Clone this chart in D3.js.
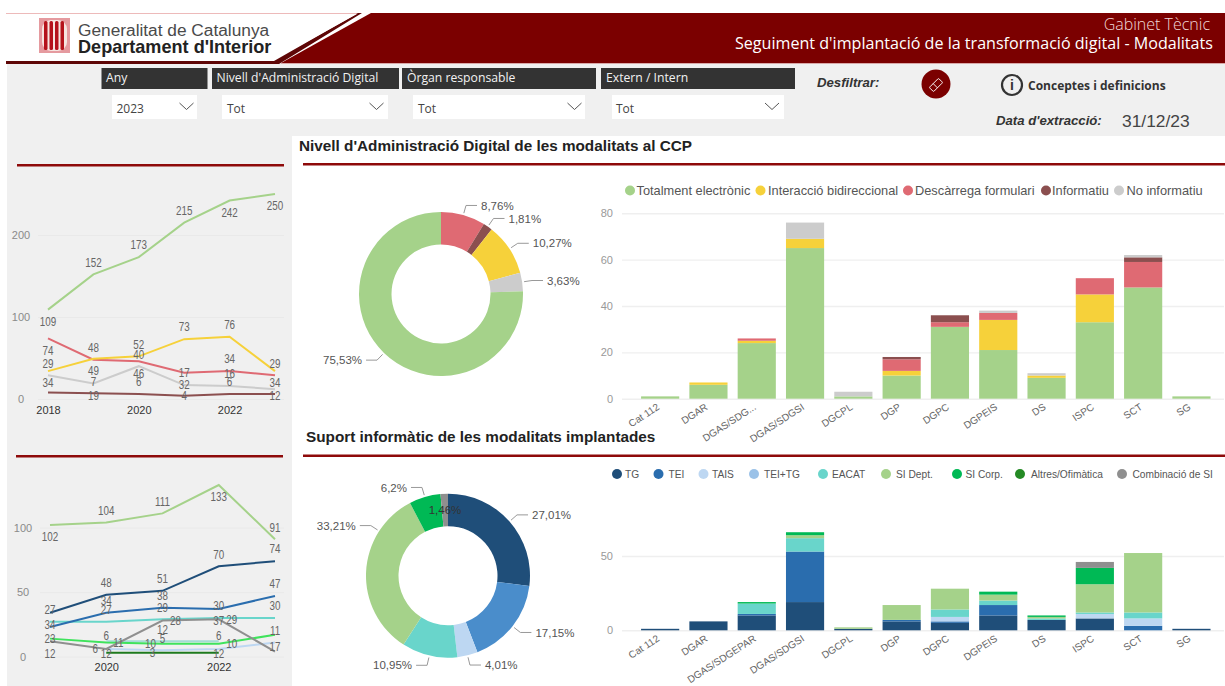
<!DOCTYPE html>
<html><head><meta charset="utf-8">
<script src="https://cdn.jsdelivr.net/npm/d3@7/dist/d3.min.js"></script>
<style>
html,body{margin:0;padding:0;background:#fff;overflow:hidden}
svg{display:block}
text{font-family:"Liberation Sans",Arial,sans-serif}
.ui{font-family:"Open Sans",sans-serif}
</style></head><body>
<svg id="c" width="1225" height="686"></svg>
<script>
// ---------- data ----------
const organs1 = ["Cat 112","DGAR","DGAS/SDG...","DGAS/SDGSI","DGCPL","DGP","DGPC","DGPEIS","DS","ISPC","SCT","SG"];
const organs2 = ["Cat 112","DGAR","DGAS/SDGEPAR","DGAS/SDGSI","DGCPL","DGP","DGPC","DGPEIS","DS","ISPC","SCT","SG"];
const levels = ["Totalment electrònic","Interacció bidireccional","Descàrrega formulari","Informatiu","No informatiu"];
const levelColors = ["#A5D28A","#F6D13A","#DF6A73","#8B4F4F","#CCCCCC"];
const electronic = [1,6,24,65,1,10,31,21,9,33,48,1];
const bidirectional = [0,1,1,4,0,2,0,13,1,12,0,0];
const download = [0,0,1,0,0,5,2,3,0,7,11,0];
const informative = [0,0,0,0,0,1,3,0,0,0,2,0];
const noInformative = [0,0,0,7,2,0,0,1,1,0,1,0];

const supports = ["TG","TEI","TAIS","TEI+TG","EACAT","SI Dept.","SI Corp.","Altres/Ofimàtica","Combinació de SI"];
const supportColors = ["#1F4E79","#2A6DAE","#BDD7F2","#9BC2E8","#69D5CB","#A5D28A","#00B955","#248A24","#8F8F8F"];
const tg = [1,6,10,19,1,6,5,10,7,8,0,1];
const tei = [0,0,1,34,0,1,1,7,0,0,3,0];
const tais = [0,0,0,0,0,0,3,0,0,3,5,0];
const teiTg = [0,0,0,0,0,0,0,0,0,0,0,0];
const eacat = [0,0,7,9,0,0,5,3,1,1,4,0];
const siDept = [0,0,0,2,1,10,14,4,1,19,40,0];
const siCorp = [0,0,1,2,0,0,0,2,1,11,0,0];
const altres = [0,0,0,0,0,0,0,0,0,0,0,0];
const combinacio = [0,0,0,0,0,0,0,0,0,4,0,0];

const donut1Values = [29,6,34,12,250];
const donut1Colors = ["#DF6A73","#8B4F4F","#F6D13A","#CCCCCC","#A5D28A"];
const donut1Labels = ["8,76%","1,81%","10,27%","3,63%","75,53%"];
const donut2Values = [74,47,11,30,91,17,4];
const donut2Colors = ["#1F4E79","#4A8DCB","#BDD7F2","#69D5CB","#A5D28A","#00B955","#8F8F8F"];
const donut2Labels = ["27,01%","17,15%","4,01%","10,95%","33,21%","6,2%","1,46%"];

const years1 = [2018,2019,2020,2021,2022,2023];
const lineElectronic = [109,152,173,215,242,250];
const lineBidirectional = [34,49,52,73,76,34];
const lineDownload = [74,48,46,32,34,29];
const lineNoInfo = [29,19,40,17,16,12];
const lineInfo = [8,7,6,4,6,6];

const years2 = [2019,2020,2021,2022,2023];
const lineDept = [102,104,111,133,91];
const lineTG = [34,48,51,70,74];
const lineTEI = [23,34,38,37,47];
const lineEACAT = [27,27,29,30,30];
const lineComb = [12,6,28,29,4];
const lineTeiTg = [null,12,12,12,null];
const lineCorp = [14,11,10,10,17];
const lineTAIS = [null,6,5,6,11];
const lineAltres = [null,3,3,3,null];

// label placement relative to the point: [dx,dy]; null = no label shown
const U=[0,-12],D=[0,12];
const place1 = {
  electronic:[D,U,U,U,D,D], bidirectional:[D,D,U,U,U,D], download:[D,U,D,D,U,U],
  noInfo:[U,D,U,U,U,[0,7]], info:[null,U,U,[0,0],U,null]
};
const place2 = {
  dept:[D,U,U,D,U], tg:[D,U,U,U,U], tei:[D,U,U,D,U], eacat:[U,U,U,U,U],
  comb:[D,[-11,0],[13,0],[13,0],null], teiTg:[null,D,U,D,null],
  corp:[null,[12,0],[-12,0],[13,0],D], tais:[null,[0,-13],U,[0,-13],U], altres:[null,null,[-10,0],null,null]
};

// ---------- page ----------
const svg = d3.select("#c");
const DARK="#7B0000";
svg.append("rect").attr("width",1225).attr("height",686).attr("fill","#fff");
svg.append("rect").attr("x",7).attr("y",63).attr("width",1218).attr("height",623).attr("fill","#F0F0F0");
svg.append("rect").attr("x",292).attr("y",136).attr("width",933).attr("height",550).attr("fill","#fff");

// banner
svg.append("rect").attr("x",6).attr("y",13).attr("width",355).attr("height",1).attr("fill","#EDBABA");
svg.append("polygon").attr("points","371,13 1225,13 1225,63 281,63").attr("fill",DARK);
svg.append("polygon").attr("points","358,13 362,13 279,64 6,64 6,61 274,61").attr("fill","#5E0606");
svg.append("polygon").attr("points","6,14 357,14 273,60.5 6,60.5").attr("fill","#fff");
svg.append("rect").attr("x",281).attr("y",63).attr("width",944).attr("height",1).attr("fill","#D9A9A9");

// logo
const logo = svg.append("g");
logo.append("rect").attr("x",39).attr("y",18).attr("width",31).attr("height",35).attr("fill","#E59A9F");
logo.append("rect").attr("x",42).attr("y",20).attr("width",25).attr("height",31).attr("rx",9).attr("fill","#F6E5E0");
d3.range(4).forEach(i=>logo.append("rect").attr("x",44+i*5.5).attr("y",21).attr("width",3.5).attr("height",29).attr("rx",1.5).attr("fill","#B5121B"));
svg.append("text").attr("x",78).attr("y",36).attr("font-size",17.3).attr("fill","#4A4A4A").text("Generalitat de Catalunya");
svg.append("text").attr("x",78).attr("y",53).attr("font-size",18.1).attr("font-weight","bold").attr("fill","#222").text("Departament d'Interior");

svg.append("text").attr("class","ui").attr("x",1210).attr("y",30).attr("text-anchor","end").attr("font-size",16).attr("font-weight",300).attr("fill","#F0D8D8").text("Gabinet Tècnic");
svg.append("text").attr("class","ui").attr("transform","translate(735,49) scale(.947,1)").attr("font-size",17).attr("fill","#fff").text("Seguiment d'implantació de la transformació digital - Modalitats");

// slicers
const heads=[["Any",101.5,207.5,106],["Nivell d'Administració Digital",212,399,216.5],["Òrgan responsable",402,596,407],["Extern / Intern",601,795,606]];
heads.forEach(h=>{
  svg.append("rect").attr("x",h[1]).attr("y",68).attr("width",h[2]-h[1]).attr("height",21).attr("fill","#333");
  svg.append("text").attr("class","ui").attr("x",h[3]).attr("y",82).attr("font-size",12.2).attr("fill","#F2F2F2").text(h[0]);
});
const drops=[["2023",112,197,116.5,186.5],["Tot",222,388,227,376.5],["Tot",413,585,418,574.5],["Tot",612,784,616,772]];
drops.forEach(h=>{
  svg.append("rect").attr("x",h[1]).attr("y",95).attr("width",h[2]-h[1]).attr("height",24).attr("fill","#fff");
  svg.append("text").attr("class","ui").attr("x",h[3]).attr("y",113).attr("font-size",12).attr("fill","#444").text(h[0]);
  svg.append("polyline").attr("points",`${h[4]-7},103 ${h[4]},109.5 ${h[4]+7},103`).attr("fill","none").attr("stroke","#555").attr("stroke-width",1);
});
svg.append("text").attr("x",817).attr("y",87).attr("font-size",13.2).attr("font-weight","bold").attr("font-style","italic").attr("fill","#333").text("Desfiltrar:");
svg.append("circle").attr("cx",936).attr("cy",84).attr("r",14.5).attr("fill",DARK);
svg.append("g").attr("transform","translate(936,85) rotate(-45)").call(g=>{
  g.append("rect").attr("x",-6.5).attr("y",-3).attr("width",13).attr("height",6).attr("rx",1).attr("fill","none").attr("stroke","#fff").attr("stroke-width",.9);
  g.append("line").attr("x1",-1).attr("x2",-1).attr("y1",-3).attr("y2",3).attr("stroke","#fff").attr("stroke-width",.9);
});
svg.append("circle").attr("cx",1012).attr("cy",85).attr("r",10).attr("fill","none").attr("stroke","#333").attr("stroke-width",2.2);
svg.append("text").attr("x",1012).attr("y",90).attr("text-anchor","middle").attr("font-size",14).attr("font-weight","bold").attr("fill","#333").text("i");
svg.append("text").attr("class","ui").attr("x",1028).attr("y",90).attr("font-size",12).attr("font-weight",700).attr("fill","#333").text("Conceptes i definicions");
svg.append("text").attr("x",996).attr("y",125).attr("font-size",13.2).attr("font-weight","bold").attr("font-style","italic").attr("fill","#333").text("Data d'extracció:");
svg.append("text").attr("x",1122).attr("y",127).attr("font-size",17.4).attr("fill","#444").text("31/12/23");

// section titles & rules
svg.append("text").attr("x",299).attr("y",151).attr("font-size",15.3).attr("font-weight","bold").attr("fill","#222").text("Nivell d'Administració Digital de les modalitats al CCP");
svg.append("text").attr("x",306).attr("y",442).attr("font-size",15.3).attr("font-weight","bold").attr("fill","#222").text("Suport informàtic de les modalitats implantades");
[[303,1225,164],[303,1225,455.5],[17,284,165],[16,283,456]].forEach(r=>
  svg.append("rect").attr("x",r[0]).attr("y",r[2]-1).attr("width",r[1]-r[0]).attr("height",2.5).attr("fill","#8E0A0A"));

// ---------- line charts ----------
function lineChart(cfg){
  const g=svg.append("g");
  const x=d3.scalePoint().domain(cfg.years).range(cfg.xr);
  const y=d3.scaleLinear().domain([0,cfg.maxV]).range(cfg.yr);
  const ya=d3.axisLeft(y).tickValues(cfg.yticks).tickSize(cfg.xr[1]+9-cfg.gridX).tickPadding(0);
  const ay=g.append("g").attr("transform",`translate(${cfg.xr[1]+9},0)`).call(ya);
  ay.select(".domain").remove();
  ay.selectAll("line").attr("stroke","#E9E9E9");
  ay.selectAll("text").attr("text-anchor","middle").attr("x",cfg.labX-(cfg.xr[1]+9)).attr("font-size",11).attr("fill","#8A8A8A").attr("font-family","Liberation Sans");
  const xa=d3.axisBottom(x).tickValues(cfg.xticks).tickSize(0).tickFormat(d3.format("d"));
  const ax=g.append("g").attr("transform",`translate(0,${cfg.xAxisY})`).call(xa);
  ax.select(".domain").remove();
  ax.selectAll("text").attr("font-size",11).attr("fill","#333").attr("font-family","Liberation Sans");
  const ln=d3.line().defined(d=>d!=null).x((d,i)=>x(cfg.years[i])).y(d=>y(d));
  cfg.series.forEach(s=>g.append("path").attr("d",ln(s.v)).attr("fill","none").attr("stroke",s.c).attr("stroke-width",2));
  cfg.series.forEach(s=>s.v.forEach((v,i)=>{
    const p=s.p[i]; if(!p||v==null) return;
    g.append("text").attr("transform",`translate(${x(cfg.years[i])+p[0]},${y(v)+p[1]}) scale(.82,1)`)
      .attr("text-anchor","middle").attr("dy","0.36em").attr("font-size",12).attr("fill","#666").text(v);
  }));
}
lineChart({years:years1,xr:[48,275],yr:[399,194],maxV:250,yticks:[0,100,200],xticks:[2018,2020,2022],labX:21,gridX:38,xAxisY:403,
 series:[
  {v:lineNoInfo,c:"#CCCCCC",p:place1.noInfo},
  {v:lineInfo,c:"#8B4F4F",p:place1.info},
  {v:lineDownload,c:"#DF6A73",p:place1.download},
  {v:lineBidirectional,c:"#F6D13A",p:place1.bidirectional},
  {v:lineElectronic,c:"#A5D28A",p:place1.electronic}]});
lineChart({years:years2,xr:[50,275],yr:[656.7,485],maxV:133,yticks:[0,50,100],xticks:[2020,2022],labX:23,gridX:40,xAxisY:660,
 series:[
  {v:lineDept,c:"#A5D28A",p:place2.dept},
  {v:lineEACAT,c:"#69D5CB",p:place2.eacat},
  {v:lineTeiTg,c:"#A5DCD6",p:place2.teiTg},
  {v:lineTAIS,c:"#BDD7F2",p:place2.tais},
  {v:lineCorp,c:"#3FE35C",p:place2.corp},
  {v:lineAltres,c:"#1E7A1E",p:place2.altres},
  {v:lineComb,c:"#8F8F8F",p:place2.comb},
  {v:lineTEI,c:"#2A6DAE",p:place2.tei},
  {v:lineTG,c:"#1F4E79",p:place2.tg}]});

// ---------- donuts ----------
function donut(cfg){
  const g=svg.append("g").attr("transform",`translate(${cfg.cx},${cfg.cy})`);
  const pie=d3.pie().sort(null)(cfg.values);
  const arc=d3.arc().innerRadius(cfg.ri).outerRadius(cfg.ro);
  g.selectAll("path.s").data(pie).join("path").attr("class","s").attr("d",arc).attr("fill",(d,i)=>cfg.colors[i]);
  pie.forEach((d,i)=>{
    let a=(d.startAngle+d.endAngle)/2;
    if(cfg.leaderDeg && cfg.leaderDeg[i]!=null) a=cfg.leaderDeg[i]*Math.PI/180;
    const sx=Math.sin(a), cy=-Math.cos(a);
    if(cfg.inside===i){
      g.append("text").attr("x",sx*66).attr("y",cy*66).attr("text-anchor","middle").attr("dy","0.36em").attr("font-size",11.5).attr("fill","#333").text(cfg.labels[i]);
      return;
    }
    const r1=cfg.ro+2,r2=cfg.ro+10, dir=sx>=0?1:-1;
    const ex=sx*r2, ey=cy*r2, hx=ex+dir*11;
    g.append("polyline").attr("points",`${sx*r1},${cy*r1} ${ex},${ey} ${hx},${ey}`).attr("fill","none").attr("stroke","#999").attr("stroke-width",1);
    g.append("text").attr("x",hx+dir*4).attr("y",ey).attr("dy","0.36em").attr("text-anchor",dir>0?"start":"end").attr("font-size",11.5).attr("fill","#555").text(cfg.labels[i]);
  });
}
donut({cx:441,cy:294,ro:82,ri:49.5,values:donut1Values,colors:donut1Colors,labels:donut1Labels});
donut({cx:448,cy:575.7,ro:82,ri:49.5,values:donut2Values,colors:donut2Colors,labels:donut2Labels,inside:6,leaderDeg:{4:303}});

// ---------- stacked bars ----------
function stacked(cfg){
  const g=svg.append("g");
  const x=d3.scaleBand().domain(cfg.cats).range([636,1215.6]).paddingInner(0.21).paddingOuter(0.105);
  const y=d3.scaleLinear().domain([0,cfg.maxV]).range(cfg.yr);
  const ay=g.append("g").attr("transform","translate(1224,0)").call(d3.axisLeft(y).tickValues(cfg.yticks).tickSize(602).tickPadding(9));
  ay.select(".domain").remove();
  ay.selectAll("line").attr("stroke","#EFEFEF").attr("stroke-width",1.4);
  ay.selectAll("text").attr("font-size",11).attr("fill","#999").attr("font-family","Liberation Sans");
  const rows=cfg.cats.map((c,i)=>Object.fromEntries(cfg.keys.map((k,j)=>[k,cfg.values[j][i]])));
  const st=d3.stack().keys(cfg.keys)(rows);
  st.forEach((s,j)=>g.append("g").selectAll("rect").data(s).join("rect")
    .attr("x",(d,i)=>x(cfg.cats[i])).attr("width",x.bandwidth())
    .attr("y",d=>y(d[1])).attr("height",d=>y(d[0])-y(d[1])).attr("fill",cfg.colors[j]));
  const ax=g.append("g").attr("transform",`translate(0,${cfg.yr[0]})`).call(d3.axisBottom(x).tickSize(0).tickFormat((d,i)=>cfg.cats[i]));
  ax.select(".domain").remove();
  ax.selectAll("text").attr("text-anchor","end").attr("font-size",10).attr("fill","#666").attr("font-family","Liberation Sans")
    .attr("x",0).attr("y",0).attr("dy","0.36em").attr("transform","translate(-2,7) rotate(-33)");
}
stacked({cats:organs1,keys:levels,values:[electronic,bidirectional,download,informative,noInformative],colors:levelColors,maxV:80,yr:[398.7,213.3],yticks:[0,20,40,60,80]});
stacked({cats:organs2,keys:supports,values:[tg,tei,tais,teiTg,eacat,siDept,siCorp,altres,combinacio],colors:supportColors,maxV:50,yr:[630.3,556],yticks:[0,50]});

// legends
const leg1X=[630,760.5,908,1046,1119], leg1T=[636.5,768,915,1052,1126.5];
levels.forEach((l,i)=>{
  svg.append("circle").attr("cx",leg1X[i]).attr("cy",190.5).attr("r",5).attr("fill",levelColors[i]);
  svg.append("text").attr("x",leg1T[i]).attr("y",190.5).attr("dy","0.36em").attr("font-size",12.8).attr("fill","#555").text(l);
});
const leg2X=[617,658.5,703.5,754,823,886,957,1020,1122], leg2T=[625,668.5,712,764,832,896,965.5,1031,1132.5];
supports.forEach((l,i)=>{
  svg.append("circle").attr("cx",leg2X[i]).attr("cy",474).attr("r",5).attr("fill",supportColors[i]);
  svg.append("text").attr("x",leg2T[i]).attr("y",474).attr("dy","0.36em").attr("font-size",10.2).attr("fill","#555").text(l);
});
</script>
</body></html>
